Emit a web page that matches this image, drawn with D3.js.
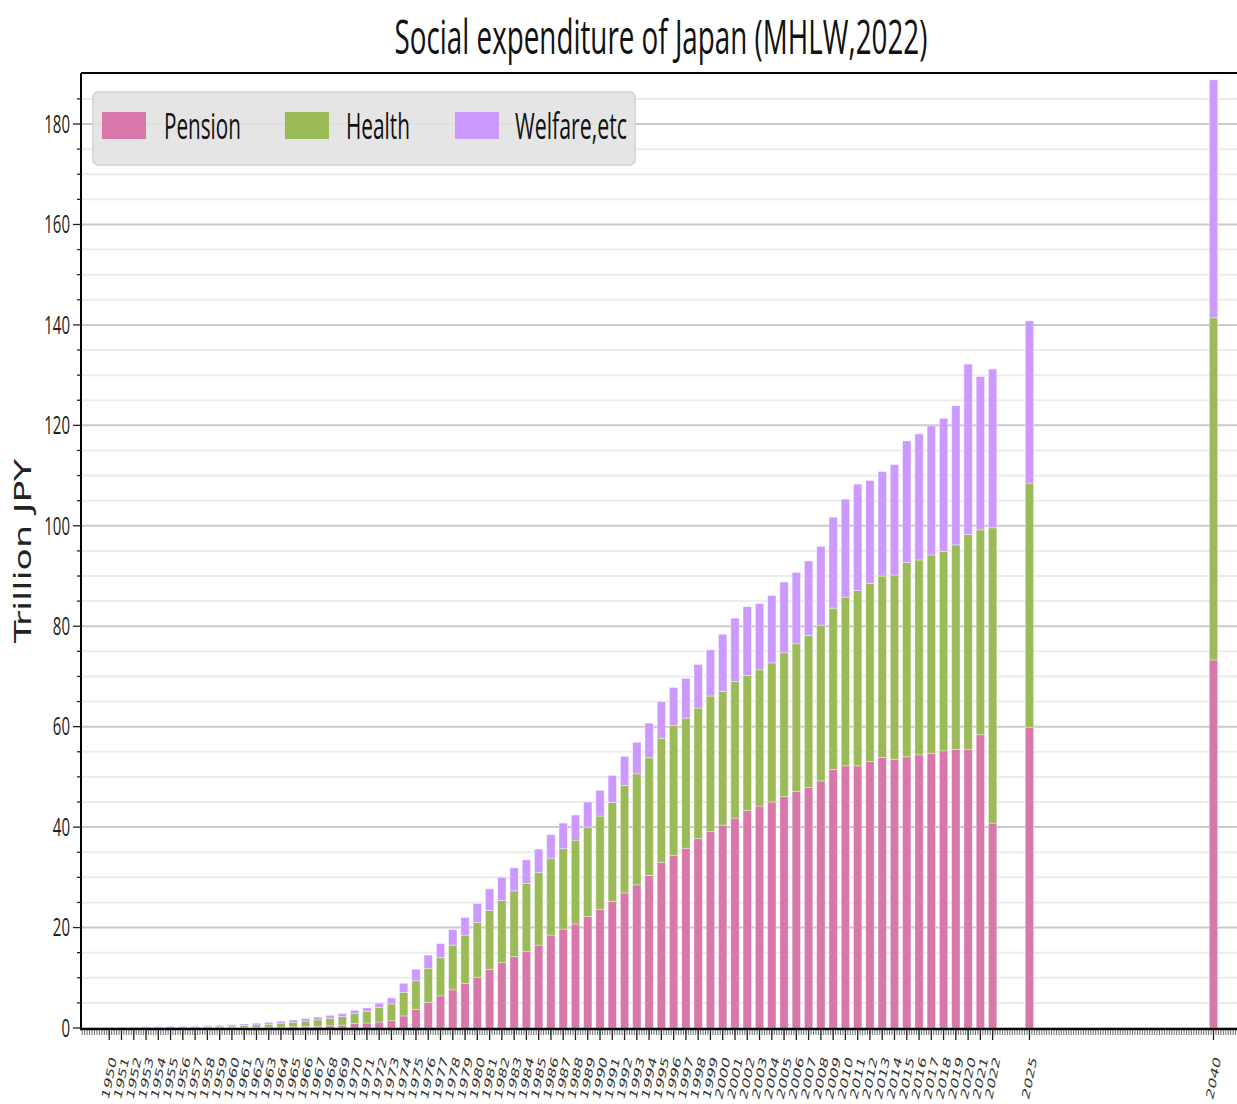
<!DOCTYPE html>
<html>
<head>
<meta charset="utf-8">
<script src="https://cdn.jsdelivr.net/npm/d3@7"></script>
<style>
  body { margin: 0; background: #fff; }
  svg { display: block; }
</style>
</head>
<body>
<div id="chart"></div>
<script>
// Data (trillion JPY)
var years = [1950, 1951, 1952, 1953, 1954, 1955, 1956, 1957, 1958, 1959,
    1960, 1961, 1962, 1963, 1964, 1965, 1966, 1967, 1968, 1969,
    1970, 1971, 1972, 1973, 1974, 1975, 1976, 1977, 1978, 1979,
    1980, 1981, 1982, 1983, 1984, 1985, 1986, 1987, 1988, 1989,
    1990, 1991, 1992, 1993, 1994, 1995, 1996, 1997, 1998, 1999,
    2000, 2001, 2002, 2003, 2004, 2005, 2006, 2007, 2008, 2009,
    2010, 2011, 2012, 2013, 2014, 2015, 2016, 2017, 2018, 2019,
    2020, 2021, 2022, 2025, 2040];

var pension = [0.00, 0.01, 0.01, 0.01, 0.02, 0.02, 0.03, 0.03, 0.04, 0.06,
    0.09, 0.11, 0.13, 0.15, 0.19, 0.24, 0.29, 0.35, 0.45, 0.56,
    0.86, 1.00, 1.18, 1.44, 2.4, 3.7, 5.1, 6.4, 7.6, 8.9,
    10.1, 11.7, 13.0, 14.2, 15.2, 16.5, 18.5, 19.7, 20.7, 22.2,
    23.6, 25.2, 26.9, 28.5, 30.4, 33.0, 34.4, 35.8, 37.7, 39.1,
    40.4, 41.8, 43.3, 44.2, 45.0, 46.1, 47.1, 47.9, 49.2, 51.5,
    52.2, 52.2, 53.1, 53.9, 53.5, 54.0, 54.4, 54.7, 55.2, 55.5,
    55.5, 58.4, 40.8, 59.9, 73.3];

var health = [0.07, 0.08, 0.12, 0.15, 0.18, 0.21, 0.21, 0.23, 0.27, 0.29,
    0.29, 0.38, 0.49, 0.60, 0.76, 0.92, 1.09, 1.26, 1.49, 1.70,
    2.06, 2.33, 2.88, 3.36, 4.7, 5.7, 6.8, 7.6, 8.9, 9.6,
    10.9, 11.7, 12.4, 13.1, 13.6, 14.5, 15.2, 16.0, 16.7, 17.8,
    18.6, 19.7, 21.4, 22.1, 23.4, 24.7, 25.8, 25.9, 26.0, 27.0,
    26.6, 27.2, 26.9, 27.1, 27.7, 28.6, 29.4, 30.3, 31.0, 32.1,
    33.6, 34.9, 35.4, 36.1, 36.7, 38.7, 38.8, 39.5, 39.7, 40.7,
    42.8, 40.8, 58.8, 48.6, 68.1];

var welfare = [0.06, 0.07, 0.09, 0.12, 0.12, 0.16, 0.15, 0.16, 0.18, 0.20,
    0.27, 0.30, 0.33, 0.38, 0.41, 0.44, 0.51, 0.56, 0.58, 0.62,
    0.61, 0.69, 0.90, 1.20, 1.8, 2.3, 2.6, 2.8, 3.1, 3.5,
    3.8, 4.3, 4.6, 4.6, 4.7, 4.6, 4.8, 5.1, 5.0, 5.0,
    5.1, 5.4, 5.8, 6.3, 6.9, 7.3, 7.6, 7.9, 8.7, 9.2,
    11.4, 12.6, 13.7, 13.2, 13.4, 14.1, 14.2, 14.8, 15.7, 18.1,
    19.5, 21.2, 20.5, 20.8, 22.0, 24.2, 25.1, 25.7, 26.5, 27.7,
    33.9, 30.5, 31.6, 32.3, 47.4];

var seriesNames = ["Pension", "Health", "Welfare,etc"];
var seriesColors = ["#d877aa", "#9bbb59", "#cc99ff"];
var yTicks = [0, 20, 40, 60, 80, 100, 120, 140, 160, 180];

var width = 1237, height = 1104;
var plot = { left: 81, top: 73, bottom: 1028, right: 1240.5 };

var svg = d3.select("#chart").append("svg")
    .attr("width", width)
    .attr("height", height);

// squeeze a text horizontally so it takes the given width
function fitWidth(sel, x, y, w) {
    var len = sel.node().getComputedTextLength();
    sel.attr("transform", `translate(${x},${y}) scale(${w / len},1)`);
}

// Scales
var x = d3.scaleLinear().domain([1947.7, 2042.2]).range([plot.left, plot.right]);
var y = d3.scaleLinear().domain([0, 190]).range([plot.bottom, plot.top + 0.8]);

// Gridlines every 5, darker every 20
svg.append("g").selectAll("line")
    .data(d3.range(5, 190, 5))
    .enter().append("line")
    .attr("x1", plot.left).attr("x2", width)
    .attr("y1", d => y(d)).attr("y2", d => y(d))
    .attr("stroke", d => d % 20 === 0 ? "#c9c9c9" : "#ececec")
    .attr("stroke-width", 2);

// Stacked bars
var table = years.map((yr, i) => ({ year: yr, Pension: pension[i], Health: health[i], "Welfare,etc": welfare[i] }));
var stacked = d3.stack().keys(seriesNames)(table);
var barHalf = 0.34;

svg.append("g").selectAll("g")
    .data(stacked)
    .enter().append("g")
    .attr("fill", (d, i) => seriesColors[i])
    .selectAll("rect")
    .data(d => d)
    .enter().append("rect")
    .attr("x", d => x(d.data.year - barHalf))
    .attr("width", d => x(d.data.year + barHalf) - x(d.data.year - barHalf))
    .attr("y", d => y(d[1]))
    .attr("height", d => y(d[0]) - y(d[1]))
    .attr("stroke", "#fff")
    .attr("stroke-opacity", 0.45)
    .attr("stroke-width", 0.8);

// Spines
svg.append("line").attr("x1", plot.left).attr("x2", width)
    .attr("y1", plot.top).attr("y2", plot.top)
    .attr("stroke", "#000").attr("stroke-width", 2);
svg.append("line").attr("x1", plot.left).attr("x2", plot.left)
    .attr("y1", plot.top).attr("y2", plot.bottom + 1)
    .attr("stroke", "#000").attr("stroke-width", 2);
svg.append("line").attr("x1", plot.left - 1).attr("x2", width)
    .attr("y1", plot.bottom + 1).attr("y2", plot.bottom + 1)
    .attr("stroke", "#000").attr("stroke-width", 2.5);

// Y ticks
svg.append("g").selectAll("line")
    .data(d3.range(0, 190, 5))
    .enter().append("line")
    .attr("x1", d => d % 20 === 0 ? plot.left - 8 : plot.left - 4)
    .attr("x2", plot.left)
    .attr("y1", d => y(d)).attr("y2", d => y(d))
    .attr("stroke", "#222").attr("stroke-width", 1.3);

svg.append("g").selectAll("text")
    .data(yTicks)
    .enter().append("text")
    .attr("transform", d => `translate(70,${y(d)}) scale(0.6,1)`)
    .attr("text-anchor", "end")
    .attr("dy", "0.35em")
    .attr("font-family", "Open Sans")
    .attr("font-size", 25)
    .attr("fill", "#222")
    .text(d => d);

// X ticks: minor every 0.2 year, major at each bar
var minorX = d3.range(0, 476).map(i => 1947.8 + i * 0.2);
svg.append("g").selectAll("line")
    .data(minorX)
    .enter().append("line")
    .attr("x1", d => x(d)).attr("x2", d => x(d))
    .attr("y1", plot.bottom + 2).attr("y2", plot.bottom + 7)
    .attr("stroke", "#444").attr("stroke-width", 0.8);

svg.append("g").selectAll("line")
    .data(years)
    .enter().append("line")
    .attr("x1", d => x(d)).attr("x2", d => x(d))
    .attr("y1", plot.bottom + 2).attr("y2", plot.bottom + 12)
    .attr("stroke", "#222").attr("stroke-width", 1.3);

// rotated labels, squeezed horizontally like the rest of the picture
svg.append("g").selectAll("text")
    .data(years)
    .enter().append("text")
    .attr("transform", d => `translate(${x(d)},1078) scale(0.62,1) rotate(-72)`)
    .attr("text-anchor", "middle")
    .attr("dy", "0.35em")
    .attr("font-family", "DejaVu Sans")
    .attr("font-size", 17)
    .attr("fill", "#333")
    .text(d => d);

// Y axis label
svg.append("text")
    .attr("transform", "translate(31,551) rotate(-90)")
    .attr("text-anchor", "middle")
    .attr("font-family", "DejaVu Sans")
    .attr("font-size", 23)
    .attr("textLength", 184)
    .attr("lengthAdjust", "spacingAndGlyphs")
    .attr("fill", "#222")
    .text("Trillion JPY");

// Title
var title = svg.append("text")
    .attr("text-anchor", "middle")
    .attr("font-family", "Open Sans")
    .attr("font-size", 48)
    .attr("fill", "#111")
    .text("Social expenditure of Japan (MHLW,2022)");
fitWidth(title, 661, 54, 533);

// Legend
var legend = svg.append("g");
legend.append("rect")
    .attr("x", 93).attr("y", 92).attr("width", 542).attr("height", 73)
    .attr("rx", 5)
    .attr("fill", "#e2e2e2").attr("fill-opacity", 0.9)
    .attr("stroke", "#d2d2d2").attr("stroke-width", 1.5);

var legendPatchX = [102, 285, 455];
var legendTextX = [164, 346, 515];
var legendTextW = [77, 64, 112];
seriesNames.forEach(function(name, i) {
    legend.append("rect")
        .attr("x", legendPatchX[i]).attr("y", 112)
        .attr("width", 44).attr("height", 27)
        .attr("fill", seriesColors[i]);
    var t = legend.append("text")
        .attr("font-family", "Open Sans")
        .attr("font-size", 37)
        .attr("fill", "#111")
        .text(name);
    fitWidth(t, legendTextX[i], 139, legendTextW[i]);
});
</script>
</body>
</html>
